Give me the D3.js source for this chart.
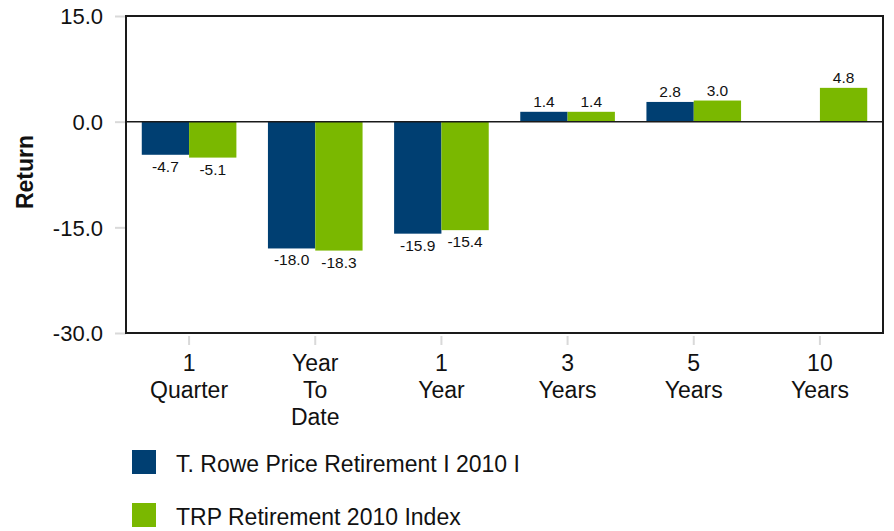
<!DOCTYPE html>
<html>
<head>
<meta charset="utf-8">
<script src="https://cdn.jsdelivr.net/npm/d3@7"></script>
<style>
  html, body { margin: 0; padding: 0; background: #fff; }
  svg { display: block; font-family: "Liberation Sans", Arial, sans-serif; }
</style>
</head>
<body>
<svg id="chart" width="894" height="531"></svg>
<script>
const categories = [["1", "Quarter"], ["Year", "To", "Date"], ["1", "Year"], ["3", "Years"], ["5", "Years"], ["10", "Years"]];
const seriesNames = ["T. Rowe Price Retirement I 2010 I", "TRP Retirement 2010 Index"];
const fundValues = [-4.7, -18.0, -15.9, 1.4, 2.8, null];
const indexValues = [-5.1, -18.3, -15.4, 1.4, 3.0, 4.8];
const yTicks = [15, 0, -15, -30];
const colors = ["#003F72", "#7AB800"];

(function () {
const svg = d3.select("#chart");
const pL = 126, pR = 883, pT = 16, pB = 333;
const fmt = v => v.toFixed(1);

const catKeys = categories.map((c, i) => i);
const x0 = d3.scaleBand().domain(catKeys).range([pL, pR]).paddingInner(0.25).paddingOuter(0.125);
const x1 = d3.scaleBand().domain([0, 1]).range([0, x0.bandwidth()]);
const y = d3.scaleLinear().domain([-30, 15]).range([pB, pT]);

// y ticks (grey marks)
const yAxis = svg.append("g").attr("transform", `translate(${pL},0)`)
  .call(d3.axisLeft(y).tickValues(yTicks).tickSize(11).tickSizeOuter(0).tickFormat(fmt));
yAxis.select(".domain").remove();
yAxis.selectAll(".tick line").attr("stroke", "#d9d9d9").attr("stroke-width", 2);
yAxis.selectAll(".tick text").attr("x", -23).attr("fill", "#111").style("font-size", "22px").attr("dy", "0.36em")
  .style("font-family", "'Liberation Sans', Arial, sans-serif");

// x ticks
const xAxis = svg.append("g").attr("transform", `translate(0,${pB})`)
  .call(d3.axisBottom(x0).tickSize(0).tickSizeOuter(0).tickFormat(""));
xAxis.select(".domain").remove();
xAxis.selectAll(".tick").append("line").attr("y1", 3).attr("y2", 12).attr("stroke", "#d9d9d9").attr("stroke-width", 2);
xAxis.selectAll(".tick text").remove();
xAxis.selectAll(".tick").each(function(d) {
  const t = d3.select(this).append("text").attr("text-anchor", "middle").attr("fill", "#111")
    .style("font-size", "23px").style("font-family", "'Liberation Sans', Arial, sans-serif");
  categories[d].forEach((line, i) => {
    t.append("tspan").attr("x", 0).attr("y", 38 + i * 27).text(line);
  });
});

// bars
const rows = categories.map((c, i) => ({ i, vals: [fundValues[i], indexValues[i]] }));
const groups = svg.append("g").selectAll("g").data(rows).join("g")
  .attr("transform", d => `translate(${x0(d.i)},0)`);
groups.selectAll("rect").data(d => d.vals.map((v, s) => ({ v, s })).filter(e => e.v !== null)).join("rect")
  .attr("x", e => x1(e.s))
  .attr("width", x1.bandwidth())
  .attr("y", e => y(Math.max(0, e.v)))
  .attr("height", e => Math.abs(y(e.v) - y(0)))
  .attr("fill", e => colors[e.s]);
groups.selectAll("text").data(d => d.vals.map((v, s) => ({ v, s })).filter(e => e.v !== null)).join("text")
  .attr("x", e => x1(e.s) + x1.bandwidth() / 2)
  .attr("y", e => e.v >= 0 ? y(e.v) - 5 : y(e.v) + 17)
  .attr("text-anchor", "middle").attr("fill", "#111").style("font-size", "15.5px")
  .text(e => fmt(e.v));

// frame and zero line
svg.append("rect").attr("x", pL).attr("y", pT).attr("width", pR - pL).attr("height", pB - pT)
  .attr("fill", "none").attr("stroke", "#1a1a1a").attr("stroke-width", 2);
svg.append("line").attr("x1", pL).attr("x2", pR).attr("y1", y(0)).attr("y2", y(0))
  .attr("stroke", "#1a1a1a").attr("stroke-width", 1.5);

// y title
svg.append("text").attr("transform", `translate(33,172) rotate(-90)`)
  .attr("text-anchor", "middle").attr("fill", "#111").style("font-size", "23px").style("font-weight", "bold")
  .text("Return");

// legend
const leg = svg.append("g").selectAll("g").data(seriesNames).join("g")
  .attr("transform", (d, i) => `translate(132,${450 + i * 53})`);
leg.append("rect").attr("width", 24).attr("height", 24).attr("fill", (d, i) => colors[i]);
leg.append("text").attr("x", 44).attr("y", 22).attr("fill", "#111").style("font-size", "23px").text(d => d);
})();
</script>
</body>
</html>
